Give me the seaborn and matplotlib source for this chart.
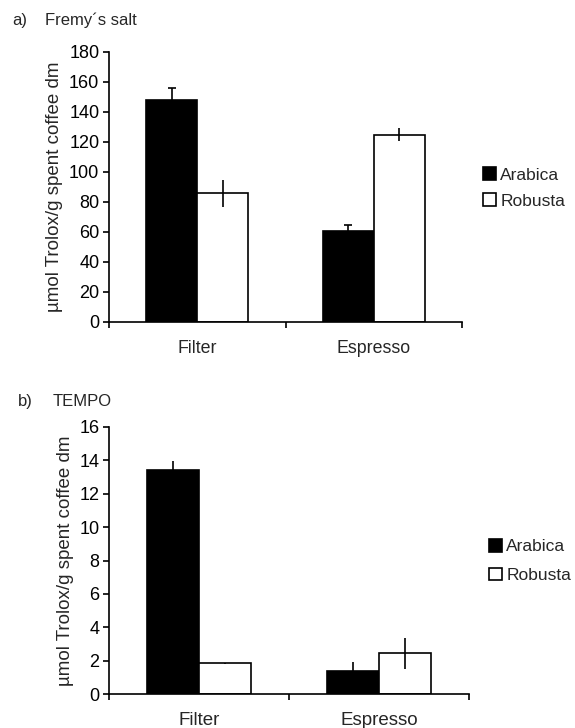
import matplotlib
matplotlib.use("Agg")
import matplotlib.pyplot as plt
import seaborn as sns
import pandas as pd
import numpy as np

methods = ["Filter", "Espresso"]
varieties = ["Arabica", "Robusta"]

fremy_arabica = [148, 61]
fremy_robusta = [86, 125]
fremy_err_arabica = [8, 3.5]
fremy_err_robusta = [9, 4.5]

tempo_arabica = [13.4, 1.4]
tempo_robusta = [1.85, 2.45]
tempo_err_arabica = [0.55, 0.54]
tempo_err_robusta = [0.05, 0.92]

ylabel = "µmol Trolox/g spent coffee dm"

sns.set_theme(style="ticks")
plt.rcParams['font.family'] = ['Liberation Sans', 'DejaVu Sans']

fig = plt.figure(figsize=(5.75, 7.28), dpi=100)
ax_a = fig.add_axes([109/575, 1-322/728, 353/575, 270/728])
ax_b = fig.add_axes([109/575, 1-694.3/728, 360/575, 267.6/728])

palette = {"Arabica": "black", "Robusta": "white"}

def panel(ax, arab, rob, earab, erob, ymax, ystep, caps, tag, name, title_x,
          name_x, title_y, leg_xy, catsize, labspace):
    df = pd.DataFrame({
        "method": methods * 2,
        "variety": ["Arabica"] * len(methods) + ["Robusta"] * len(methods),
        "value": list(arab) + list(rob),
    })
    sns.barplot(data=df, x="method", y="value", hue="variety", order=methods,
                hue_order=varieties, palette=palette, width=0.58, gap=0,
                edgecolor="black", linewidth=1.2, errorbar=None, ax=ax,
                legend=True)
    errs = list(earab) + list(erob)
    vals = list(arab) + list(rob)
    bars = [p for p in ax.patches if p.get_height() > 0][:4]
    for i, (p, v, e) in enumerate(zip(bars, vals, errs)):
        xc = p.get_x() + p.get_width() / 2
        cs = 3 if (caps and i < 2) else 0
        ax.errorbar(xc, v, yerr=e, fmt="none", ecolor="black", elinewidth=1.2,
                    capsize=cs, capthick=1.2, zorder=5)
    ax.set_xlim(-0.5, 1.5)
    ax.set_ylim(0, ymax)
    ax.set_yticks(np.arange(0, ymax + ystep / 2, ystep))
    ax.set_xticks([-0.5, 0.5, 1.5])
    ax.set_xticklabels(["", "", ""])
    for xi, m in enumerate(methods):
        ax.annotate(m, xy=(xi, 0), xycoords=("data", "axes fraction"),
                    xytext=(0, -13), textcoords="offset points",
                    ha="center", va="top", fontsize=catsize)
    ax.tick_params(axis="both", direction="out", length=4, width=1.2,
                   labelsize=13, colors="black")
    ax.tick_params(axis="y", pad=3)
    for s in ["top", "right"]:
        ax.spines[s].set_visible(False)
    for s in ["left", "bottom"]:
        ax.spines[s].set_color("black")
        ax.spines[s].set_linewidth(1.2)
    ax.set_xlabel("")
    ax.set_ylabel(ylabel, fontsize=13.5, labelpad=4)
    handles, labels = ax.get_legend_handles_labels()
    ax.legend(handles, labels, loc="center left",
              bbox_to_anchor=(leg_xy[0] / 575, 1 - leg_xy[1] / 728),
              bbox_transform=fig.transFigure, frameon=False, fontsize=12.5,
              handlelength=0.75, handleheight=0.75, handletextpad=0.25,
              labelspacing=labspace, borderaxespad=0, borderpad=0)
    fig.text(title_x / 575, 1 - title_y / 728, tag, ha="left", va="center",
             fontsize=12)
    fig.text(name_x / 575, 1 - title_y / 728, name, ha="left", va="center",
             fontsize=12)

panel(ax_a, fremy_arabica, fremy_robusta, fremy_err_arabica, fremy_err_robusta,
      180, 20, True, "a)", "Fremy´s salt", 12, 45, 20, (483, 188), 12.8, 0.62)
panel(ax_b, tempo_arabica, tempo_robusta, tempo_err_arabica, tempo_err_robusta,
      16, 2, False, "b)", "TEMPO", 18, 53, 401, (489, 561), 13.5, 0.78)

fig.savefig("out.png", dpi=100, facecolor="white")
